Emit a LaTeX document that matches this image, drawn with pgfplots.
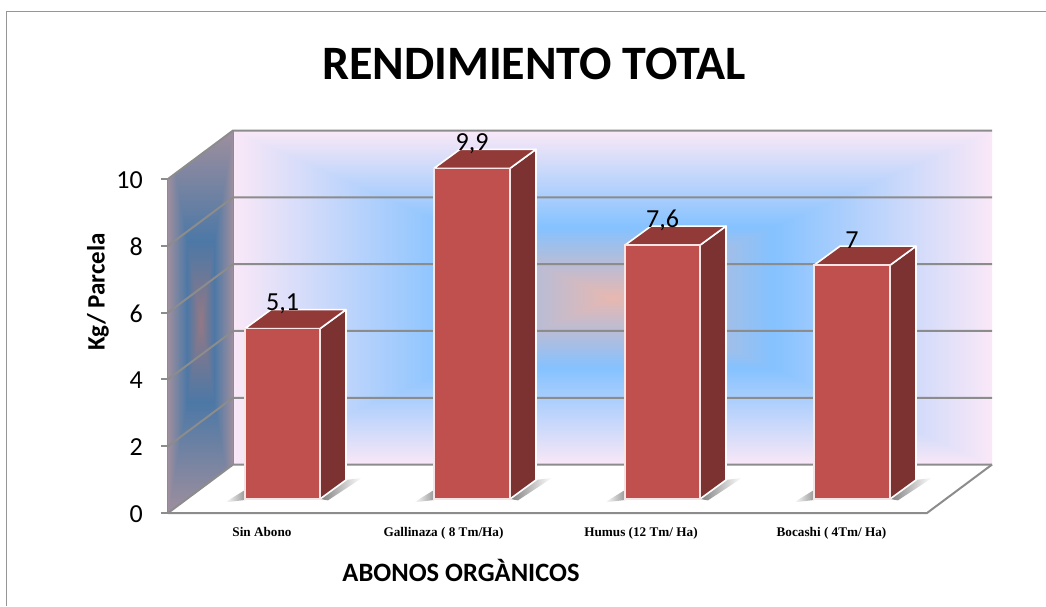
\documentclass[border=0pt]{standalone}
\usepackage{fontspec}
\usepackage{pgfplots}
\pgfplotsset{compat=1.18}
\setmainfont{Carlito}
\newfontfamily\tnr{Liberation Serif}
\definecolor{axisgray}{HTML}{8C8C8C}
\definecolor{framegray}{HTML}{969696}
\definecolor{barfront}{HTML}{C0504D}
\definecolor{barside}{HTML}{7B3230}
\definecolor{bartop}{HTML}{923A38}
% rectangular "path" gradients for the walls
\pgfdeclarefunctionalshading{wallback}{\pgfpoint{-50bp}{-50bp}}{\pgfpoint{50bp}{50bp}}{}{
  abs exch abs 2 copy lt {exch} if pop 25 div
  dup 0.42 lt {
    0.42 div
    dup -0.39 mul 0.91 add exch
    dup 0.04 mul 0.72 add exch
    0.31 mul 0.69 add
  }{
    0.42 sub 0.58 div
    dup 0.46 mul 0.52 add exch
    dup 0.15 mul 0.76 add exch
    -0.03 mul 1.00 add
  } ifelse
}
\pgfdeclarefunctionalshading{wallleft}{\pgfpoint{-50bp}{-50bp}}{\pgfpoint{50bp}{50bp}}{}{
  abs exch abs 2 copy lt {exch} if pop 25 div
  dup 0.42 lt {
    0.42 div
    dup -0.28 mul 0.58 add exch
    dup 0.00 mul 0.47 add exch
    0.13 mul 0.52 add
  }{
    0.42 sub 0.58 div
    dup 0.32 mul 0.30 add exch
    dup 0.09 mul 0.47 add exch
    -0.03 mul 0.65 add
  } ifelse
}
\newcommand{\barshadow}[2]{%
  \path[left color=white,right color=black!40]
    (axis cs:#1-20,-0.10) -- (axis cs:#1,0.27) -- (axis cs:#1,-0.03) -- cycle;
  \path[left color=black!50,middle color=black!28,right color=white]
    (axis cs:#2,0) -- (axis cs:#2+26,0.57) -- (axis cs:#2+42,0.63) -- (axis cs:#2+8,-0.04) -- cycle;
}
\pgfplotstableread{
x v
282.5 5.1
472 9.9
662.5 7.6
852 7
}\barvalues
\begin{document}
\begin{tikzpicture}[x=1pt,y=1pt]
\useasboundingbox (0,0) rectangle (1046,606);
\draw[framegray,line width=1.8pt] (6.5,0) -- (6.5,594.5) -- (1046,594.5);
\begin{axis}[
  at={(168pt,93pt)},anchor=south west,
  scale only axis,width=759pt,height=334pt,
  xmin=168,xmax=927,ymin=0,ymax=10,
  clip=false,
  axis lines=left,
  axis line style={-,draw=axisgray,line width=2pt},
  xtick={262,443.5,641,831.5},
  xticklabels={Sin Abono,{Gallinaza ( 8 Tm/Ha)},{Humus (12 Tm/ Ha)},{Bocashi ( 4Tm/ Ha)}},
  ytick={0,2,4,6,8,10},
  x tick style={draw=none},
  y tick style={draw=axisgray,line width=2pt},
  tick align=outside,
  major tick length=7pt,
  x tick label style={font=\fontsize{13.2}{14}\selectfont\tnr\bfseries,yshift=-7pt,inner sep=0pt},
  y tick label style={font=\fontsize{26}{28}\selectfont,/pgf/number format/assume math mode=true,inner sep=0pt,xshift=-18pt,yshift=-1pt},
  title={RENDIMIENTO TOTAL},
  title style={at={(axis cs:534,13.26)},anchor=center,font=\fontsize{48}{50}\selectfont\bfseries},
  xlabel={ABONOS ORGÀNICOS},
  xlabel style={at={(axis cs:461,-1.72)},anchor=center,font=\fontsize{26.5}{28}\selectfont\bfseries},
  ylabel={Kg/ Parcela},
  ylabel style={at={(axis cs:98,6.62)},anchor=center,font=\fontsize{25}{27}\selectfont\bfseries},
]
\shade[shading=wallback] (axis cs:233,1.45) rectangle (axis cs:992,11.45);
\shade[shading=wallleft] (axis cs:168,0) -- (axis cs:233,1.45) -- (axis cs:233,11.45) -- (axis cs:168,10) -- cycle;
\addplot[axisgray,line width=2pt] coordinates {(168,0) (233,1.45) (992,1.45)};
\addplot[axisgray,line width=2pt] coordinates {(168,2) (233,3.45) (992,3.45)};
\addplot[axisgray,line width=2pt] coordinates {(168,4) (233,5.45) (992,5.45)};
\addplot[axisgray,line width=2pt] coordinates {(168,6) (233,7.45) (992,7.45)};
\addplot[axisgray,line width=2pt] coordinates {(168,8) (233,9.45) (992,9.45)};
\addplot[axisgray,line width=2pt] coordinates {(168,10) (233,11.45) (992,11.45)};
\addplot[axisgray,line width=2pt] coordinates {(168,0) (927,0) (992,1.45)};
\addplot[axisgray,line width=0.8pt] coordinates {(233,1.45) (233,11.45)};
\end{axis}
\begin{axis}[
  at={(168pt,107pt)},anchor=south west,
  scale only axis,width=759pt,height=334pt,
  xmin=168,xmax=927,ymin=0,ymax=10,
  clip=false,hide axis,
]
\barshadow{245}{320}
\barshadow{434}{510}
\barshadow{625}{700}
\barshadow{814}{890}
% side faces
\addplot[fill=barside,draw=white,line width=1.6pt,line join=round] coordinates {(320,0) (346,0.57) (346,5.67) (320,5.1)} -- cycle;
\addplot[fill=barside,draw=white,line width=1.6pt,line join=round] coordinates {(510,0) (536,0.57) (536,10.47) (510,9.9)} -- cycle;
\addplot[fill=barside,draw=white,line width=1.6pt,line join=round] coordinates {(700,0) (726,0.57) (726,8.17) (700,7.6)} -- cycle;
\addplot[fill=barside,draw=white,line width=1.6pt,line join=round] coordinates {(890,0) (916,0.57) (916,7.57) (890,7)} -- cycle;
% top faces
\addplot[fill=bartop,draw=white,line width=1.6pt,line join=round] coordinates {(245,5.1) (271,5.67) (346,5.67) (320,5.1)} -- cycle;
\addplot[fill=bartop,draw=white,line width=1.6pt,line join=round] coordinates {(434,9.9) (460,10.47) (536,10.47) (510,9.9)} -- cycle;
\addplot[fill=bartop,draw=white,line width=1.6pt,line join=round] coordinates {(625,7.6) (651,8.17) (726,8.17) (700,7.6)} -- cycle;
\addplot[fill=bartop,draw=white,line width=1.6pt,line join=round] coordinates {(814,7) (840,7.57) (916,7.57) (890,7)} -- cycle;
% front faces
\addplot[ybar,bar width=75.5,bar shift=0pt,fill=barfront,draw=white!85!barfront,line width=1.6pt] table[x=x,y=v] {\barvalues};
% value labels
\addplot[draw=none,mark=none,
  nodes near coords={\pgfmathprintnumber[assume math mode=true,use comma]{\pgfplotspointmeta}},
  nodes near coords style={anchor=center,yshift=25pt,inner sep=0pt,font=\fontsize{26}{28}\selectfont,text=black},
  point meta=y,
] table[x=x,y=v] {\barvalues};
\end{axis}
\end{tikzpicture}
\end{document}
